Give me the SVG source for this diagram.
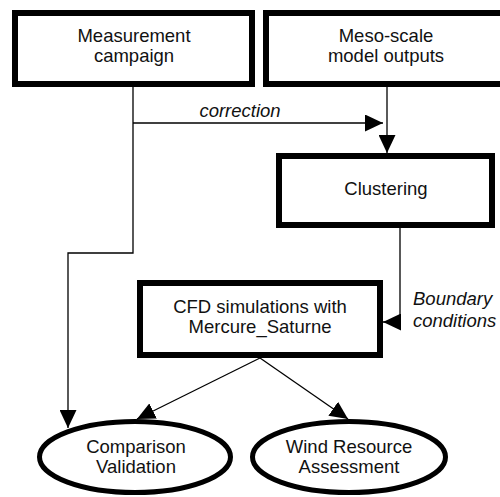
<svg xmlns="http://www.w3.org/2000/svg" width="500" height="497" viewBox="0 0 500 497">
<defs>
<marker id="arr" markerUnits="userSpaceOnUse" markerWidth="18" markerHeight="17" refX="18" refY="8.5" orient="auto" viewBox="0 0 18 17">
<path d="M0,0 L18,8.5 L0,17 z" fill="#000"/>
</marker>
<style>
.box{fill:#fff;stroke:#000;stroke-width:6}
.ell{fill:#fff;stroke:#000;stroke-width:5}
.t{font-family:"Liberation Sans",Arial,sans-serif;font-size:18.5px;fill:#111;text-anchor:middle}
.lbl{font-family:"Liberation Sans",Arial,sans-serif;font-size:18.5px;font-style:italic;fill:#111}
.c{fill:none;stroke:#000;stroke-width:1.3}
</style>
</defs>
<rect width="500" height="497" fill="#fff"/>
<g id="connectors">
<path class="c" d="M133,87 V253 H68 V428" marker-end="url(#arr)"/>
<path class="c" d="M133,123 H383" marker-end="url(#arr)"/>
<path class="c" d="M387,87 V153" marker-end="url(#arr)"/>
<path class="c" d="M400,228 V322 H383" marker-end="url(#arr)"/>
<path class="c" d="M260,358 L137,419" marker-end="url(#arr)"/>
<path class="c" d="M260,358 L348,419" marker-end="url(#arr)"/>
<text class="lbl" x="240" y="117" text-anchor="middle">correction</text>
<text class="lbl" x="413" y="305">Boundary</text>
<text class="lbl" x="413" y="327">conditions</text>
</g>
<g id="measurement">
<rect class="box" x="15" y="13" width="237" height="71"/>
<text class="t" x="134" y="42">Measurement</text>
<text class="t" x="134" y="62">campaign</text>
</g>
<g id="meso">
<rect class="box" x="266" y="13" width="240" height="71"/>
<text class="t" x="386" y="42">Meso-scale</text>
<text class="t" x="386" y="62">model outputs</text>
</g>
<g id="clustering">
<rect class="box" x="279" y="156" width="213" height="69"/>
<text class="t" x="386" y="195">Clustering</text>
</g>
<g id="cfd">
<rect class="box" x="140" y="283" width="240" height="72"/>
<text class="t" x="260" y="313">CFD simulations with</text>
<text class="t" x="260" y="333">Mercure_Saturne</text>
</g>
<g id="comparison">
<ellipse class="ell" cx="135" cy="457" rx="95.5" ry="35.5"/>
<text class="t" x="136" y="453">Comparison</text>
<text class="t" x="136" y="473">Validation</text>
</g>
<g id="wind">
<ellipse class="ell" cx="349" cy="457" rx="96.5" ry="35.5"/>
<text class="t" x="349" y="453">Wind Resource</text>
<text class="t" x="349" y="473">Assessment</text>
</g>
</svg>
